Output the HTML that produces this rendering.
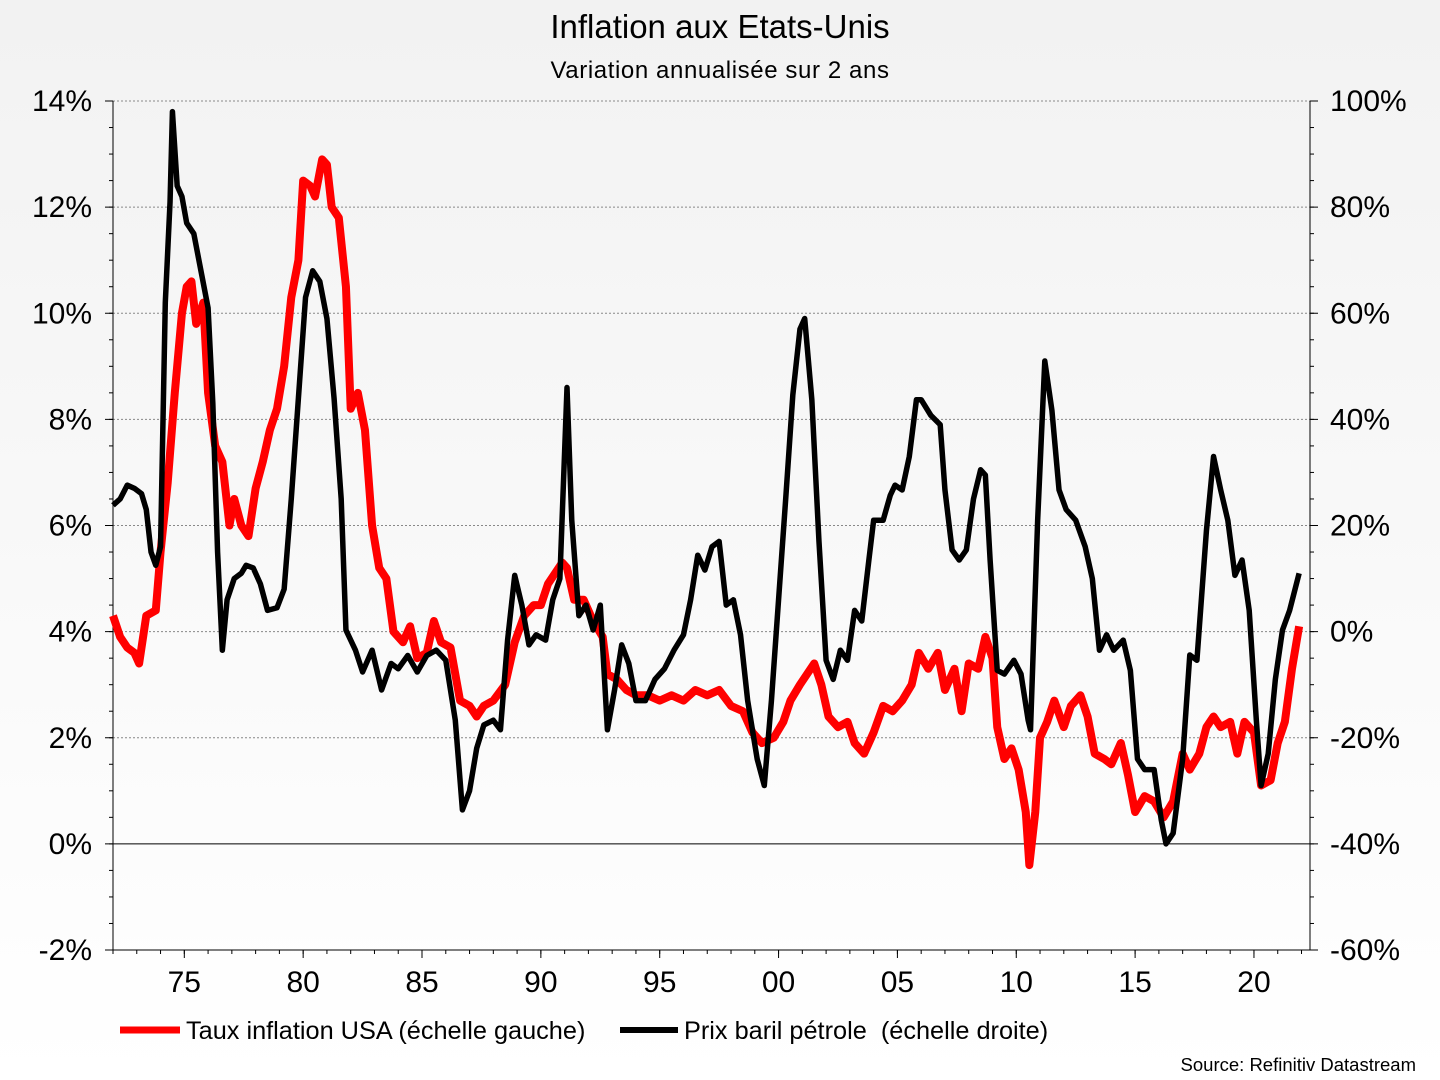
<!DOCTYPE html>
<html><head><meta charset="utf-8"><style>
body{margin:0;width:1440px;height:1080px;overflow:hidden;background:linear-gradient(#f2f2f2,#ffffff);font-family:"Liberation Sans",sans-serif}
svg{position:absolute;left:0;top:0}
</style></head><body>
<svg width="1440" height="1080">
<text x="720" y="38" text-anchor="middle" font-size="33">Inflation aux Etats-Unis</text>
<text x="720" y="78" text-anchor="middle" font-size="24" letter-spacing="0.6">Variation annualisée sur 2 ans</text>
<g id="axes"></g>
<g id="marks"></g>
<g>
<line x1="120" y1="1030" x2="180" y2="1030" stroke="#ff0000" stroke-width="7"/>
<text x="186" y="1039" font-size="25.3">Taux inflation USA (échelle gauche)</text>
<line x1="620" y1="1030" x2="678" y2="1030" stroke="#000" stroke-width="6"/>
<text x="684" y="1039" font-size="25.3" xml:space="preserve">Prix baril pétrole  (échelle droite)</text>
</g>
<text x="1416" y="1071" text-anchor="end" font-size="18.5">Source: Refinitiv Datastream</text>
</svg>
<script>
const leftTicks=[-2,0,2,4,6,8,10,12,14];
const rightTicks=[-60,-40,-20,0,20,40,60,80,100];
const xTicks=[1975,1980,1985,1990,1995,2000,2005,2010,2015,2020];
const xLabels=["75","80","85","90","95","00","05","10","15","20"];
const inflYears=[1972.0,1972.3,1972.6,1972.9,1973.1,1973.4,1973.8,1974.0,1974.3,1974.6,1974.9,1975.1,1975.3,1975.5,1975.8,1976.0,1976.3,1976.6,1976.9,1977.1,1977.4,1977.7,1978.0,1978.3,1978.6,1978.9,1979.2,1979.5,1979.8,1980.0,1980.3,1980.5,1980.8,1981.0,1981.2,1981.5,1981.8,1982.0,1982.3,1982.6,1982.9,1983.2,1983.5,1983.8,1984.2,1984.5,1984.8,1985.2,1985.5,1985.8,1986.2,1986.6,1987.0,1987.3,1987.6,1988.0,1988.5,1988.9,1989.3,1989.7,1990.0,1990.3,1990.6,1990.9,1991.1,1991.4,1991.8,1992.2,1992.6,1992.8,1993.2,1993.6,1994.0,1994.5,1995.0,1995.5,1996.0,1996.5,1997.0,1997.5,1998.0,1998.5,1998.9,1999.3,1999.8,2000.2,2000.5,2000.9,2001.2,2001.5,2001.8,2002.1,2002.5,2002.9,2003.2,2003.6,2004.0,2004.4,2004.8,2005.2,2005.6,2005.9,2006.3,2006.7,2007.0,2007.4,2007.7,2008.0,2008.4,2008.7,2009.0,2009.2,2009.5,2009.8,2010.1,2010.4,2010.55,2010.8,2011.0,2011.3,2011.6,2012.0,2012.3,2012.7,2013.0,2013.3,2013.7,2014.0,2014.4,2014.7,2015.0,2015.4,2015.8,2016.2,2016.6,2017.0,2017.3,2017.7,2018.0,2018.3,2018.6,2019.0,2019.3,2019.6,2020.0,2020.3,2020.7,2021.0,2021.3,2021.6,2021.9];
const inflValues=[4.3,3.9,3.7,3.6,3.4,4.3,4.4,5.5,6.8,8.5,10.0,10.5,10.6,9.8,10.2,8.5,7.5,7.2,6.0,6.5,6.0,5.8,6.7,7.2,7.8,8.2,9.0,10.3,11.0,12.5,12.4,12.2,12.9,12.8,12.0,11.8,10.5,8.2,8.5,7.8,6.0,5.2,5.0,4.0,3.8,4.1,3.5,3.6,4.2,3.8,3.7,2.7,2.6,2.4,2.6,2.7,3.0,3.8,4.3,4.5,4.5,4.9,5.1,5.3,5.2,4.6,4.6,4.2,3.9,3.2,3.1,2.9,2.8,2.8,2.7,2.8,2.7,2.9,2.8,2.9,2.6,2.5,2.1,1.9,2.0,2.3,2.7,3.0,3.2,3.4,3.0,2.4,2.2,2.3,1.9,1.7,2.1,2.6,2.5,2.7,3.0,3.6,3.3,3.6,2.9,3.3,2.5,3.4,3.3,3.9,3.5,2.2,1.6,1.8,1.4,0.6,-0.4,0.6,2.0,2.3,2.7,2.2,2.6,2.8,2.4,1.7,1.6,1.5,1.9,1.3,0.6,0.9,0.8,0.5,0.8,1.7,1.4,1.7,2.2,2.4,2.2,2.3,1.7,2.3,2.1,1.1,1.2,1.9,2.3,3.3,4.1];
const oilYears=[1972.0,1972.3,1972.6,1972.9,1973.2,1973.4,1973.6,1973.8,1974.0,1974.2,1974.4,1974.5,1974.7,1974.9,1975.1,1975.4,1975.7,1976.0,1976.2,1976.4,1976.6,1976.8,1977.1,1977.4,1977.6,1977.9,1978.2,1978.5,1978.9,1979.2,1979.5,1979.8,1980.1,1980.4,1980.7,1981.0,1981.3,1981.6,1981.8,1982.2,1982.5,1982.9,1983.3,1983.7,1984.0,1984.4,1984.8,1985.2,1985.6,1986.0,1986.4,1986.7,1987.0,1987.3,1987.6,1988.0,1988.3,1988.6,1988.9,1989.2,1989.5,1989.8,1990.2,1990.5,1990.8,1991.0,1991.1,1991.3,1991.6,1991.9,1992.2,1992.5,1992.8,1993.1,1993.4,1993.7,1994.0,1994.4,1994.8,1995.2,1995.6,1996.0,1996.3,1996.6,1996.9,1997.2,1997.5,1997.8,1998.1,1998.4,1998.7,1999.1,1999.4,1999.7,2000.0,2000.3,2000.6,2000.9,2001.1,2001.4,2001.7,2002.0,2002.3,2002.6,2002.9,2003.2,2003.5,2003.8,2004.0,2004.4,2004.7,2004.9,2005.2,2005.5,2005.8,2006.0,2006.4,2006.8,2007.0,2007.3,2007.6,2007.9,2008.2,2008.5,2008.7,2008.9,2009.2,2009.5,2009.9,2010.2,2010.5,2010.6,2010.9,2011.2,2011.5,2011.8,2012.1,2012.5,2012.9,2013.2,2013.5,2013.8,2014.1,2014.5,2014.8,2015.1,2015.4,2015.8,2016.1,2016.3,2016.6,2017.0,2017.3,2017.6,2018.0,2018.3,2018.6,2018.9,2019.2,2019.5,2019.8,2020.1,2020.3,2020.6,2020.9,2021.2,2021.5,2021.9];
const oilValues=[23.8,25,27.6,27,26,23,15,12.5,16,62,81,98,84,82,77,75,68,61,43,15,-3.5,6,10,11,12.5,12,9,4,4.5,8,25,44,63,68,66,59,44,25,0.3,-3.5,-7.6,-3.5,-11,-6,-7,-4.5,-7.6,-4.5,-3.5,-5.4,-16.7,-33.6,-30,-22,-17.6,-16.7,-18.5,-1.6,10.6,5,-2.5,-0.6,-1.6,6,10,34,46,21,3,5,0.3,5,-18.5,-11,-2.5,-6,-13,-13,-9,-7,-3.5,-0.6,6,14.4,11.6,16,17,5,6,-0.6,-13,-24,-29,-13,6,25,44.6,57,59,43.7,17,-5.4,-9,-3.5,-5.4,4,2,13.5,21,21,25.7,27.6,26.7,33,43.7,43.7,40.8,39,26.7,15.4,13.5,15.4,25,30.5,29.5,13.5,-7.3,-8,-5.4,-8,-16.7,-18.5,21,51,41.7,26.7,23,21,16,10,-3.5,-0.6,-3.5,-1.6,-7.3,-24,-26,-26,-35.5,-40,-38,-24,-4.4,-5.4,19,33,26.7,21,10.6,13.5,4,-16.7,-29,-23,-9,0.3,4,11];

const PL=113,PR=1310,PT=101,PB=950;
const xS=yr=>PL+(yr-1972)*23.77;
const yL=v=>PT+(14-v)*(PB-PT)/16;
const yR=v=>PT+(100-v)*(PB-PT)/160;
const NS="http://www.w3.org/2000/svg";
function mk(tag,attrs,parent){const e=document.createElementNS(NS,tag);for(const k in attrs)e.setAttribute(k,attrs[k]);parent.appendChild(e);return e;}
const ax=document.getElementById('axes');
leftTicks.forEach(v=>{
  const y=yL(v);
  if(v!==-2&&v!==0){const g=mk('line',{x1:PL,x2:PR,y1:y,y2:y,stroke:'#888','stroke-dasharray':'2,2','stroke-width':1},ax);
  
  }
  const t=mk('text',{x:92,y:y+10,'text-anchor':'end','font-size':30},ax);t.textContent=v+'%';
  
  
  mk('line',{x1:PL-8,x2:PL,y1:y,y2:y,stroke:'#000'},ax);
});
for(let v=-2;v<14;v+=0.5){mk('line',{x1:PL-4,x2:PL,y1:yL(v),y2:yL(v),stroke:'#000'},ax);}
rightTicks.forEach(v=>{
  const y=yR(v);
  const t=mk('text',{x:1330,y:y+10,'font-size':30},ax);t.textContent=v+'%';
  
  
  mk('line',{x1:PR,x2:PR+8,y1:y,y2:y,stroke:'#000'},ax);
});
for(let v=-60;v<100;v+=5){mk('line',{x1:PR,x2:PR+4,y1:yR(v),y2:yR(v),stroke:'#000'},ax);}
const zeroLine=mk('line',{x1:PL,x2:PR,y1:yL(0),y2:yL(0),stroke:'#000','stroke-width':1},ax);


mk('line',{x1:PL,x2:PL,y1:PT,y2:PB,stroke:'#000'},ax);
mk('line',{x1:PR,x2:PR,y1:PT,y2:PB,stroke:'#000'},ax);
mk('line',{x1:PL,x2:PR,y1:PB,y2:PB,stroke:'#000'},ax);
for(let yr=1972;yr<=2022;yr++){mk('line',{x1:xS(yr),x2:xS(yr),y1:PB,y2:PB+4,stroke:'#000'},ax);}
xTicks.forEach((yr,i)=>{
  mk('line',{x1:xS(yr),x2:xS(yr),y1:PB,y2:PB+8,stroke:'#000'},ax);
  const t=mk('text',{x:xS(yr),y:992,'text-anchor':'middle','font-size':30},ax);t.textContent=xLabels[i];
  
  
});
const mg=document.getElementById('marks');
const p1=mk('polyline',{points:inflYears.map((yr,i)=>xS(yr)+','+yL(inflValues[i])).join(' '),fill:'none',stroke:'#ff0000','stroke-width':8,'stroke-linejoin':'round'},mg);


const p2=mk('polyline',{points:oilYears.map((yr,i)=>xS(yr)+','+yR(oilValues[i])).join(' '),fill:'none',stroke:'#000','stroke-width':5.5,'stroke-linejoin':'round'},mg);


</script>
</body></html>
